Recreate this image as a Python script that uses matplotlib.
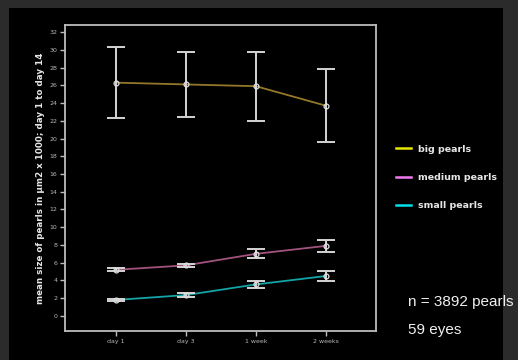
import matplotlib
matplotlib.use("Agg")
import matplotlib.pyplot as plt
from matplotlib.lines import Line2D
from matplotlib.patches import Rectangle
import numpy as np

# data
days = ['day 1', 'day 3', '1 week', '2 weeks']
big_mean = [26.3, 26.1, 25.9, 23.7]
big_err = [4.0, 3.7, 3.9, 4.1]
medium_mean = [5.2, 5.7, 7.0, 7.9]
medium_err = [0.15, 0.2, 0.5, 0.7]
small_mean = [1.8, 2.35, 3.55, 4.5]
small_err = [0.1, 0.2, 0.37, 0.55]

series_names = ['big pearls', 'medium pearls', 'small pearls']
line_colors = ['#94782a', '#a2527e', '#12a4a6']
legend_colors = ['#e6e600', '#f07af0', '#00e0ea']

fig = plt.figure(figsize=(5.18, 3.6), dpi=100)
fig.patch.set_facecolor('#2b2b2b')
# black panel behind the chart
fig.patches.append(Rectangle((9 / 518, 0), 494 / 518, 352 / 360,
                             transform=fig.transFigure, facecolor='black',
                             edgecolor='none', zorder=-10))

ax = fig.add_axes([65 / 518, 1 - 331 / 360, 311 / 518, 306 / 360])
ax.set_facecolor('black')

x = np.arange(len(days))
for m, e, c in zip([big_mean, medium_mean, small_mean],
                   [big_err, medium_err, small_err], line_colors):
    ax.plot(x, m, color=c, lw=1.3, zorder=2)
    ax.errorbar(x, m, yerr=e, fmt='none', ecolor='#d4d4d4', elinewidth=1.4,
                capsize=6.3, capthick=1.4, zorder=3)
    ax.plot(x, m, 'o', ms=3.5, mfc='none', mec='#e0e0e0', mew=0.9, zorder=4)

ax.set_xlim(-0.724, 3.714)
ax.set_ylim(-1.7, 32.8)
ax.set_yticks(np.arange(0, 33, 2))
ax.set_xticks(x)
ax.set_xticklabels(days)

for s in ['left', 'bottom', 'right', 'top']:
    ax.spines[s].set_color('#bdbdbd')
    ax.spines[s].set_linewidth(1.3)
ax.tick_params(colors='#bdbdbd', labelcolor='#b8b8b8', labelsize=4.5,
               length=3.5, width=1.0, direction='out', pad=2)

ax.set_ylabel('mean size of pearls in µm2 x 1000; day 1 to day 14',
              color='#e6e6e6', fontsize=6.3, fontweight='bold', labelpad=3)

handles = [Line2D([], [], color=c, lw=1.8) for c in legend_colors]
fig.legend(handles, series_names, loc='upper left',
           bbox_to_anchor=(387 / 518, 1 - 136 / 360), frameon=False,
           labelcolor='#e6e6e6', prop={'weight': 'bold', 'size': 6.8},
           handlelength=1.6, handletextpad=0.75, labelspacing=2.05)

fig.text(408 / 518, 1 - 302 / 360, 'n = 3892 pearls', color='#f0f0f0',
         fontsize=11, family='Liberation Sans', va='center', ha='left')
fig.text(408 / 518, 1 - 330 / 360, '59 eyes', color='#f0f0f0',
         fontsize=11, family='Liberation Sans', va='center', ha='left')

fig.savefig('out.png', dpi=100, facecolor=fig.get_facecolor())
